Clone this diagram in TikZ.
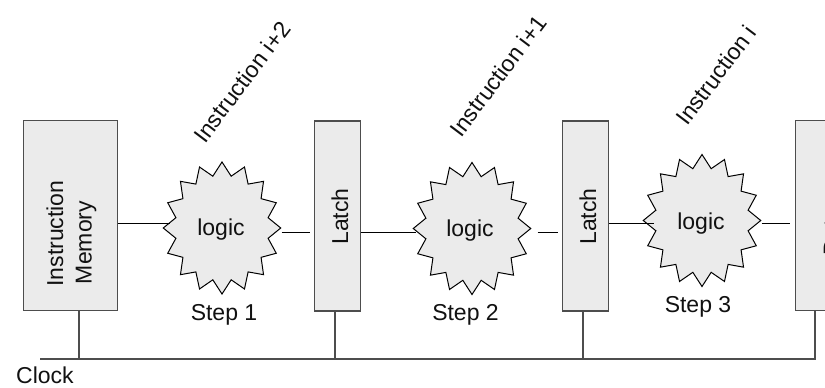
\documentclass[tikz,border=0pt]{standalone}
\usepackage{fontspec}
\setmainfont{Liberation Sans}
\usetikzlibrary{shapes.geometric}
\definecolor{fillgray}{HTML}{EBEBEB}
\definecolor{edgegray}{HTML}{4D4D4D}
\definecolor{inkblack}{HTML}{111111}
\begin{document}
\begin{tikzpicture}[x=1pt,y=-1pt,
  every node/.style={font=\fontsize{23pt}{27pt}\selectfont, text=inkblack},
  blockbox/.style={rectangle, draw=edgegray, fill=fillgray, line width=1.8pt, inner sep=0pt},
  logicstar/.style={star, star points=16, star point ratio=1.25, draw=black, fill=fillgray,
     line width=1pt, inner sep=0pt, minimum size=132pt, xscale=0.89},
  wire/.style={draw=black, line width=1pt},
  clockline/.style={draw=edgegray, line width=1.8pt},
  txt/.style={anchor=base, inner sep=0pt},
  vtxt/.style={anchor=base, inner sep=0pt, rotate=90},
  instr/.style={rotate=53, inner sep=0pt}
]
\useasboundingbox (0,0) rectangle (825,388);
\clip (0,0) rectangle (825,388);
\fill[white] (0,0) rectangle (825,388);

% blocks
\node[blockbox, minimum width=94pt, minimum height=190pt] (im) at (70.5,215.5) {};
\node[blockbox, minimum width=46pt, minimum height=190pt] (la1) at (337.5,216) {};
\node[blockbox, minimum width=46pt, minimum height=190pt] (la2) at (585.5,216) {};
\node[blockbox, minimum width=94pt, minimum height=190pt] (rb) at (842.5,215.5) {};

\node[vtxt] (imt1) at (63,233.5) {Instruction};
\node[vtxt] (imt2) at (91.5,242.5) {Memory};
\node[vtxt] (la1t) at (348,216.5) {Latch};
\node[vtxt] (la2t) at (596,216.5) {Latch};
\node[vtxt] (rbt1) at (839.5,231.5) {Data};
\node[vtxt] (rbt2) at (868,242.5) {Memory};

% logic stars
\begin{scope}[shift={(222,228)}]\node[logicstar] (s1) at (0,0) {};\end{scope}
\begin{scope}[shift={(472,228.5)}]\node[logicstar] (s2) at (0,0) {};\end{scope}
\begin{scope}[shift={(702,220.5)}]\node[logicstar] (s3) at (0,0) {};\end{scope}

\node[txt] (l1) at (221,235) {logic};
\node[txt] (l2) at (470,236.5) {logic};
\node[txt] (l3) at (701,229) {logic};

\node[txt] (st1) at (224,320) {Step 1};
\node[txt] (st2) at (465.5,320) {Step 2};
\node[txt] (st3) at (698,312) {Step 3};

% instruction labels
\node[instr] (i2) at (242,82) {Instruction i+2};
\node[instr] (i1) at (498,76) {Instruction i+1};
\node[instr] (i0) at (716,75) {Instruction i};

% data wires
\coordinate (ya) at (0,223);
\coordinate (yb) at (0,232);
\draw[wire, shorten >=-7pt] (im.east |- ya) -- (s1.west |- ya);
\draw[wire, shorten >=4pt] (s1.east |- yb) -- (la1.west |- yb);
\draw[wire, shorten >=-3pt] (la1.east |- yb) -- (s2.west |- yb);
\draw[wire, shorten <=6pt, shorten >=4pt] (s2.east |- yb) -- (la2.west |- yb);
\draw[wire, shorten >=-11pt] (la2.east |- ya) -- (s3.west |- ya);
\draw[wire, shorten >=5pt] (s3.east |- ya) -- (rb.west |- ya);

% clock
\coordinate (k0) at (40,359);
\coordinate (k1) at (79,359);
\coordinate (k2) at (335,359);
\coordinate (k3) at (583,359);
\coordinate (k4) at (815,359);
\draw[clockline] (k0) -- (k4) -- (k4 |- rb.south);
\draw[clockline] (k1) -- (k1 |- im.south);
\draw[clockline] (k2) -- (k2 |- la1.south);
\draw[clockline] (k3) -- (k3 |- la2.south);
\node[txt] (clk) at (45,383.5) {Clock};
\end{tikzpicture}
\end{document}
